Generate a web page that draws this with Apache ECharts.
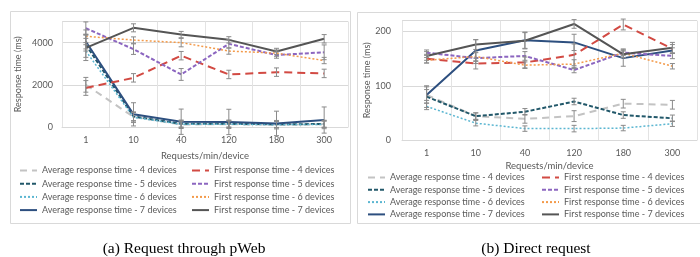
<!DOCTYPE html>
<html>
<head>
<meta charset="utf-8">
<script src="https://cdn.jsdelivr.net/npm/echarts@6/dist/echarts.min.js"></script>
<style>
  html, body { margin: 0; padding: 0; background: #fff; }
  #chart { width: 700px; height: 257px; }
</style>
</head>
<body>
<div id="chart"></div>
<script>
const categories = ['1', '10', '40', '120', '180', '300'];

const avgNames = [
  'Average response time - 4 devices',
  'Average response time - 5 devices',
  'Average response time - 6 devices',
  'Average response time - 7 devices'
];
const firstNames = [
  'First response time - 4 devices',
  'First response time - 5 devices',
  'First response time - 6 devices',
  'First response time - 7 devices'
];

// (a) Request through pWeb, ms
const pwebAvg4 = [2000, 480, 120, 130, 110, 130];
const pwebAvg5 = [3900, 500, 150, 150, 130, 140];
const pwebAvg6 = [3600, 460, 130, 130, 110, 120];
const pwebAvg7 = [4050, 600, 250, 240, 170, 330];
const pwebFirst4 = [1850, 2330, 3380, 2490, 2600, 2540];
const pwebFirst5 = [4680, 3690, 2490, 3940, 3410, 3540];
const pwebFirst6 = [4300, 4120, 4000, 3600, 3500, 3150];
const pwebFirst7 = [3750, 4700, 4380, 4130, 3580, 4180];
// error bar half lengths
const pwebAvg4Err = [350, 200, 150, 150, 150, 150];
const pwebAvg5Err = [300, 200, 150, 150, 150, 150];
const pwebAvg6Err = [300, 250, 200, 200, 200, 200];
const pwebAvg7Err = [350, 550, 600, 600, 580, 620];
const pwebFirst4Err = [350, 200, 200, 200, 200, 200];
const pwebFirst5Err = [300, 250, 280, 200, 150, 350];
const pwebFirst6Err = [300, 150, 200, 150, 150, 150];
const pwebFirst7Err = [600, 190, 150, 150, 150, 200];

// (b) Direct request, ms
const directAvg4 = [83, 44, 39, 44, 67, 65];
const directAvg5 = [80, 44, 52, 71, 46, 40];
const directAvg6 = [62, 31, 21, 21, 22, 30];
const directAvg7 = [83, 165, 184, 180, 151, 165];
const directFirst4 = [150, 141, 143, 157, 213, 168];
const directFirst5 = [161, 151, 155, 129, 161, 155];
const directFirst6 = [147, 154, 138, 140, 160, 136];
const directFirst7 = [155, 176, 183, 214, 158, 170];
const directAvg4Err = [15, 6, 8, 10, 8, 8];
const directAvg5Err = [20, 6, 6, 6, 6, 6];
const directAvg6Err = [6, 5, 5, 6, 5, 5];
const directAvg7Err = [10, 20, 15, 15, 15, 5];
const directFirst4Err = [8, 10, 10, 20, 10, 8];
const directFirst5Err = [5, 10, 8, 5, 5, 5];
const directFirst6Err = [5, 8, 6, 8, 8, 5];
const directFirst7Err = [8, 9, 15, 8, 6, 10];

const lineStyles = [
  { color: '#c3c3c3', type: [7, 5], width: 2 },
  { color: '#22586a', type: [4, 2], width: 2 },
  { color: '#5bb6d1', type: [2, 2], width: 1.5 },
  { color: '#2d4f7f', type: 'solid', width: 2 },
  { color: '#d24a43', type: [8, 5], width: 2 },
  { color: '#8c66c0', type: [4, 2], width: 2 },
  { color: '#f39a4a', type: [2, 2], width: 1.5 },
  { color: '#555555', type: 'solid', width: 2 }
];

const font = 'Lato';
const textGrey = '#595959';

function makeLines(values, idx) {
  const names = avgNames.concat(firstNames);
  return values.map((data, i) => ({
    name: names[i],
    type: 'line',
    xAxisIndex: idx,
    yAxisIndex: idx,
    data: data,
    symbol: 'none',
    lineStyle: lineStyles[i],
    itemStyle: { color: lineStyles[i].color },
    emphasis: { disabled: true },
    z: 2
  }));
}

function errData(values, errs) {
  const out = [];
  values.forEach((data, s) => {
    data.forEach((v, i) => out.push([i, v - errs[s][i], v + errs[s][i]]));
  });
  return out;
}

function renderErr(params, api) {
  const x = api.value(0);
  const p1 = api.coord([x, api.value(2)]);
  const p2 = api.coord([x, api.value(1)]);
  const w = 2.5;
  const style = { stroke: '#8a8a8a', lineWidth: 1 };
  return {
    type: 'group',
    children: [
      { type: 'line', shape: { x1: p1[0], y1: p1[1], x2: p2[0], y2: p2[1] }, style },
      { type: 'line', shape: { x1: p1[0] - w, y1: p1[1], x2: p1[0] + w, y2: p1[1] }, style },
      { type: 'line', shape: { x1: p2[0] - w, y1: p2[1], x2: p2[0] + w, y2: p2[1] }, style }
    ]
  };
}

const pwebValues = [pwebAvg4, pwebAvg5, pwebAvg6, pwebAvg7, pwebFirst4, pwebFirst5, pwebFirst6, pwebFirst7];
const pwebErrs = [pwebAvg4Err, pwebAvg5Err, pwebAvg6Err, pwebAvg7Err, pwebFirst4Err, pwebFirst5Err, pwebFirst6Err, pwebFirst7Err];
const directValues = [directAvg4, directAvg5, directAvg6, directAvg7, directFirst4, directFirst5, directFirst6, directFirst7];
const directErrs = [directAvg4Err, directAvg5Err, directAvg6Err, directAvg7Err, directFirst4Err, directFirst5Err, directFirst6Err, directFirst7Err];

function xAxis(gridIndex, nameGap) {
  return {
    type: 'category',
    gridIndex,
    data: categories,
    boundaryGap: true,
    name: 'Requests/min/device',
    nameLocation: 'middle',
    nameGap,
    nameTextStyle: { color: textGrey, fontFamily: font, fontSize: 9.5 },
    axisLine: { lineStyle: { color: '#d9d9d9' } },
    axisTick: { show: false },
    axisLabel: { color: textGrey, fontFamily: font, fontSize: 9, margin: 9 },
    splitLine: { show: true, lineStyle: { color: '#e3e3e3' } }
  };
}

function yAxis(gridIndex, max, interval, nameGap, margin) {
  return {
    type: 'value',
    gridIndex,
    min: 0,
    max,
    interval,
    name: 'Response time (ms)',
    nameLocation: 'middle',
    nameGap,
    nameTextStyle: { color: textGrey, fontFamily: font, fontSize: 9 },
    axisLine: { show: false },
    axisTick: { show: false },
    axisLabel: {
      color: textGrey, fontFamily: font, fontSize: 9, margin,
      showMaxLabel: false, formatter: (v) => String(v)
    },
    splitLine: { lineStyle: { color: '#d9d9d9' } }
  };
}

function legend(left, top, names, gap) {
  return {
    orient: 'vertical',
    left,
    top,
    data: names,
    itemWidth: 17,
    itemHeight: 10,
    itemGap: gap,
    padding: 0,
    selectedMode: false,
    itemStyle: { opacity: 0 },
    textStyle: { color: textGrey, fontFamily: font, fontSize: 9 }
  };
}

const chart = echarts.init(document.getElementById('chart'));
chart.setOption({
  animation: false,
  backgroundColor: '#fff',
  title: [
    {
      text: '(a) Request through pWeb',
      left: 179, top: 236, textAlign: 'center',
      textStyle: { fontFamily: 'Liberation Serif', fontSize: 15.5, fontWeight: 'normal', color: '#000' }
    },
    {
      text: '(b) Direct request',
      left: 531, top: 236, textAlign: 'center',
      textStyle: { fontFamily: 'Liberation Serif', fontSize: 15.5, fontWeight: 'normal', color: '#000' }
    }
  ],
  graphic: [
    { type: 'rect', shape: { x: 10.5, y: 11.5, width: 340, height: 212 }, style: { fill: 'none', stroke: '#d9d9d9' }, silent: true },
    { type: 'rect', shape: { x: 357.5, y: 12.5, width: 350, height: 211 }, style: { fill: 'none', stroke: '#d9d9d9' }, silent: true }
  ],
  grid: [
    { left: 62, top: 21.5, width: 286, height: 105.5 },
    { left: 402, top: 20.7, width: 295, height: 119.3 }
  ],
  xAxis: [xAxis(0, 24), xAxis(1, 21)],
  yAxis: [yAxis(0, 5000, 2000, 39, 9), yAxis(1, 220, 100, 30, 11)],
  legend: [
    legend(19, 166, avgNames, 4.2),
    legend(191, 166, firstNames, 4.2),
    legend(367, 173, avgNames, 3.3),
    legend(541, 173, firstNames, 3.3)
  ],
  series: [
    ...makeLines(pwebValues, 0),
    ...makeLines(directValues, 1),
    {
      type: 'custom', xAxisIndex: 0, yAxisIndex: 0, z: 3,
      renderItem: renderErr, encode: { x: 0, y: [1, 2] },
      data: errData(pwebValues, pwebErrs), silent: true
    },
    {
      type: 'custom', xAxisIndex: 1, yAxisIndex: 1, z: 3,
      renderItem: renderErr, encode: { x: 0, y: [1, 2] },
      data: errData(directValues, directErrs), silent: true
    }
  ]
});
</script>
</body>
</html>
